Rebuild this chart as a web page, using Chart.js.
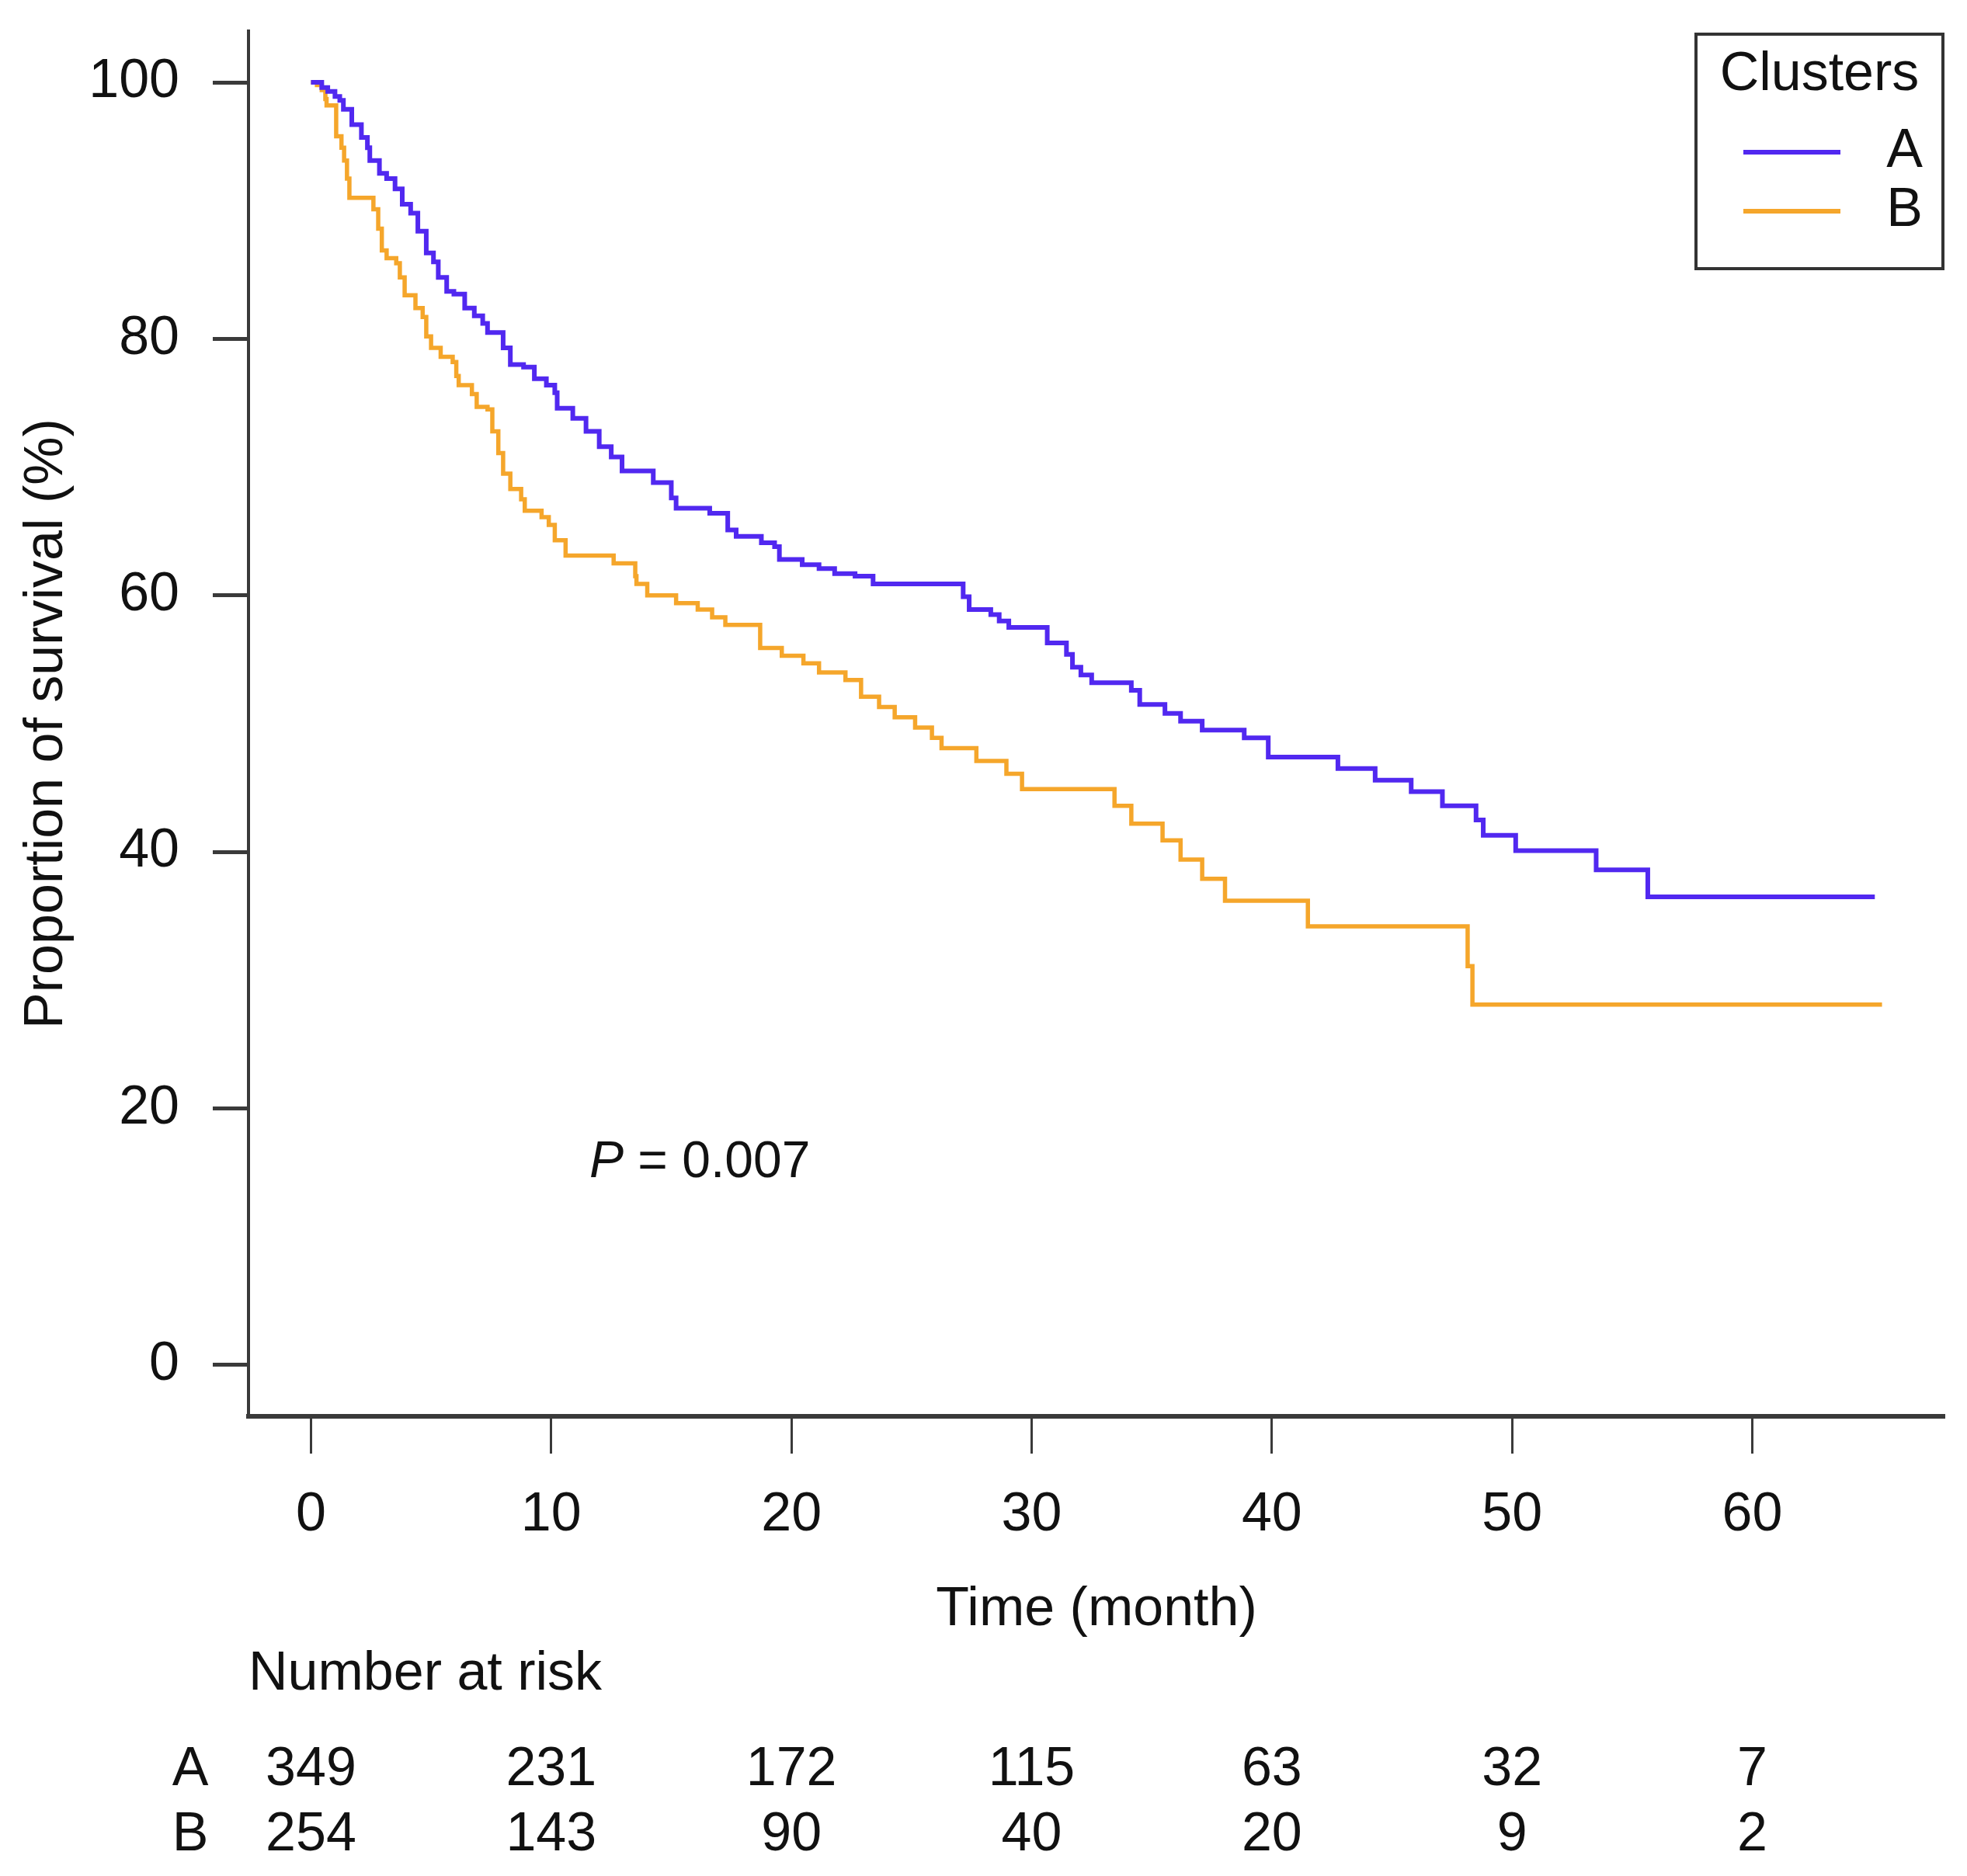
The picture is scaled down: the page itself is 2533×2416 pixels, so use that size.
<!DOCTYPE html>
<html>
<head>
<meta charset="utf-8">
<title>Survival by cluster</title>
<script src="https://cdn.jsdelivr.net/npm/chart.js@4/dist/chart.umd.min.js"></script>
<style>
	html, body { margin: 0; padding: 0; background: #fff; }
	#wrap { width: 2533px; height: 2416px; }
</style>
</head>
<body>
<div id="wrap"><canvas id="km" width="2533" height="2416"></canvas></div>
<script>
// cluster A: time (month) of each step and survival (%) after it
var time_a = [0, 0.45, 0.7, 1.0, 1.2, 1.35, 1.7, 2.1, 2.35, 2.45, 2.85, 3.15, 3.5, 3.8, 4.15, 4.45, 4.8, 5.1, 5.3, 5.65,
	5.95, 6.4, 6.8, 7.15, 7.35, 8.0, 8.3, 8.85, 9.3, 9.8, 10.15, 10.25, 10.9, 11.45, 12.0, 12.5, 12.95, 14.25, 15.0, 15.2,
	16.6, 17.35, 17.7, 18.75, 19.3, 19.5, 20.45, 21.15, 21.8, 22.65, 23.4, 27.15, 27.4, 28.3, 28.65, 29.05, 30.65, 31.45, 31.7, 32.05,
	32.5, 34.15, 34.5, 35.55, 36.2, 37.1, 38.85, 39.85, 42.75, 44.3, 45.8, 47.1, 48.5, 48.8, 50.15, 53.5, 55.65, 65.1];
var surv_a = [100, 99.6, 99.3, 98.9, 98.6, 97.9, 96.7, 95.7, 94.9, 93.9, 92.9, 92.5, 91.7, 90.5, 89.8, 88.4, 86.7, 86.0, 84.8, 83.7,
	83.5, 82.4, 81.8, 81.2, 80.5, 79.3, 78.0, 77.8, 76.9, 76.4, 75.8, 74.6, 73.8, 72.8, 71.6, 70.8, 69.7, 68.8, 67.6, 66.8,
	66.4, 65.1, 64.6, 64.1, 63.8, 62.8, 62.4, 62.1, 61.7, 61.5, 60.9, 59.9, 58.9, 58.5, 58.0, 57.5, 56.3, 55.4, 54.4, 53.8,
	53.2, 52.6, 51.5, 50.8, 50.2, 49.5, 48.9, 47.4, 46.5, 45.6, 44.7, 43.6, 42.5, 41.3, 40.1, 38.6, 36.5, 36.5];

// cluster B
var time_b = [0, 0.25, 0.45, 0.6, 0.65, 1.05, 1.27, 1.38, 1.5, 1.6, 2.6, 2.8, 2.95, 3.15, 3.55, 3.7, 3.9, 4.35, 4.65, 4.8,
	5.0, 5.4, 5.9, 6.05, 6.15, 6.7, 6.9, 7.35, 7.55, 7.8, 8.0, 8.3, 8.75, 8.9, 9.6, 9.9, 10.15, 10.6, 12.6, 13.5,
	13.55, 14.0, 15.2, 16.1, 16.7, 17.25, 18.7, 19.6, 20.5, 21.15, 22.25, 22.9, 23.65, 24.3, 25.15, 25.85, 26.25, 27.7, 28.95, 29.6,
	33.45, 34.15, 35.45, 36.2, 37.1, 38.05, 41.5, 48.15, 48.35, 65.4];
var surv_b = [100, 99.8, 99.4, 98.7, 98.2, 95.8, 94.9, 93.9, 92.5, 91.0, 90.1, 88.6, 86.9, 86.3, 85.9, 84.8, 83.4, 82.4, 81.7, 80.2,
	79.3, 78.6, 78.2, 77.1, 76.4, 75.7, 74.7, 74.5, 72.8, 71.1, 69.5, 68.3, 67.5, 66.6, 66.1, 65.5, 64.3, 63.1, 62.5, 61.5,
	60.9, 60.0, 59.4, 58.9, 58.3, 57.7, 55.9, 55.3, 54.7, 54.0, 53.4, 52.1, 51.3, 50.5, 49.7, 48.9, 48.1, 47.1, 46.1, 44.9,
	43.6, 42.2, 40.9, 39.4, 37.9, 36.2, 34.2, 31.1, 28.1, 28.1];

var cluster_names = ['A', 'B'];
var cluster_colors = ['#5128f0', '#f5a62b'];

var x_ticks = [0, 10, 20, 30, 40, 50, 60];
var y_ticks = [0, 20, 40, 60, 80, 100];

// number at risk table
var risk_times = [0, 10, 20, 30, 40, 50, 60];
var risk_a = [349, 231, 172, 115, 63, 32, 7];
var risk_b = [254, 143, 90, 40, 20, 9, 2];
var p_value = '0.007';

var font_family = '"Liberation Sans", Arial, Helvetica, sans-serif';
var font_size = 70;
var ink = '#111';
var axis_color = '#3a3a3a';

Chart.defaults.font.family = font_family;
Chart.defaults.color = ink;

var to_points = function(times, values) {
	var pts = [];
	for (var i = 0; i < times.length; i++) {
		pts.push({x: times[i], y: values[i]});
	}
	return pts;
};

// legend box, p value and risk table drawn on top of the chart
var extras = {
	id: 'extras',
	afterDraw: function(chart) {
		var ctx = chart.ctx;
		var xs = chart.scales.x;
		ctx.save();
		ctx.fillStyle = ink;
		ctx.textBaseline = 'middle';

		// legend
		ctx.strokeStyle = '#333';
		ctx.lineWidth = 4;
		ctx.strokeRect(2184, 44, 318, 302);
		ctx.font = font_size + 'px ' + font_family;
		ctx.textAlign = 'center';
		ctx.fillText('Clusters', 2343, 97);
		var rows = [196, 272];
		for (var i = 0; i < cluster_names.length; i++) {
			ctx.strokeStyle = cluster_colors[i];
			ctx.lineWidth = 6;
			ctx.beginPath();
			ctx.moveTo(2245, rows[i]);
			ctx.lineTo(2370, rows[i]);
			ctx.stroke();
			ctx.textAlign = 'right';
			ctx.fillText(cluster_names[i], 2476, rows[i]);
		}

		// p value
		ctx.textAlign = 'left';
		ctx.font = 'italic 66px ' + font_family;
		ctx.fillText('P', 759, 1498);
		var pw = ctx.measureText('P').width;
		ctx.font = '66px ' + font_family;
		ctx.fillText(' = ' + p_value, 759 + pw, 1498);

		// number at risk
		ctx.font = font_size + 'px ' + font_family;
		ctx.fillText('Number at risk', 320, 2157);
		var risk_rows = [[risk_a, 2280], [risk_b, 2364]];
		for (var r = 0; r < risk_rows.length; r++) {
			var yy = risk_rows[r][1];
			ctx.textAlign = 'center';
			ctx.fillText(cluster_names[r], 245, yy);
			for (var k = 0; k < risk_times.length; k++) {
				ctx.fillText(String(risk_rows[r][0][k]), xs.getPixelForValue(risk_times[k]), yy);
			}
		}
		ctx.restore();
	}
};

var chart = new Chart(document.getElementById('km'), {
	type: 'line',
	data: {
		datasets: [{
			label: cluster_names[0],
			data: to_points(time_a, surv_a),
			borderColor: cluster_colors[0],
			borderWidth: 6,
			stepped: 'before',
			pointRadius: 0,
			fill: false
		}, {
			label: cluster_names[1],
			data: to_points(time_b, surv_b),
			borderColor: cluster_colors[1],
			borderWidth: 5.5,
			stepped: 'before',
			pointRadius: 0,
			fill: false
		}]
	},
	options: {
		responsive: false,
		animation: false,
		devicePixelRatio: 1,
		layout: {padding: {top: 40, right: 29, bottom: 292, left: 0}},
		plugins: {legend: {display: false}, tooltip: {enabled: false}},
		scales: {
			x: {
				type: 'linear',
				min: -2.6,
				max: 68.0,
				afterBuildTicks: function(scale) {
					scale.ticks = x_ticks.map(function(v) { return {value: v}; });
				},
				afterFit: function(scale) {
					scale.height = 300;
					scale.paddingLeft = 0;
					scale.paddingRight = 0;
				},
				border: {display: true, color: axis_color, width: 6},
				grid: {drawOnChartArea: false, drawTicks: true, tickLength: 48, tickWidth: 3, tickColor: axis_color},
				ticks: {autoSkip: false, maxRotation: 0, padding: 38, color: ink, font: {size: font_size}},
				title: {display: true, text: 'Time (month)', color: ink, font: {size: font_size}, padding: {top: 0, bottom: 8}}
			},
			y: {
				type: 'linear',
				min: -4,
				max: 104,
				afterBuildTicks: function(scale) {
					scale.ticks = y_ticks.map(function(v) { return {value: v}; });
				},
				afterFit: function(scale) {
					scale.width = 320;
					scale.paddingTop = 0;
					scale.paddingBottom = 0;
				},
				border: {display: true, color: axis_color, width: 4},
				grid: {drawOnChartArea: false, drawTicks: true, tickLength: 46, tickWidth: 5, tickColor: axis_color},
				ticks: {autoSkip: false, padding: 43, color: ink, font: {size: font_size}},
				title: {display: true, text: 'Proportion of survival (%)', color: ink, font: {size: font_size}, padding: {top: 19, bottom: 0}}
			}
		}
	},
	plugins: [extras]
});
</script>
</body>
</html>
